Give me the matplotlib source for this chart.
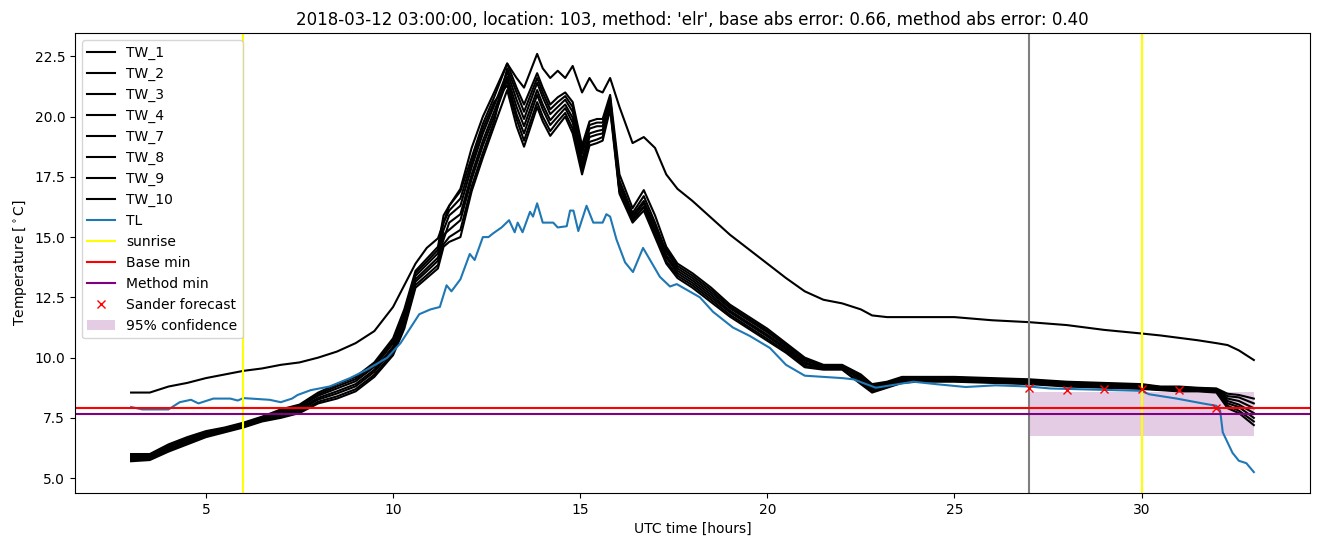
import matplotlib
matplotlib.use("Agg")
import matplotlib.pyplot as plt

# ---------------- data ----------------
tw_hours = [3.0, 3.5, 4.0, 4.5, 5.0, 5.5, 6.0, 6.5, 7.0, 7.5, 8.0, 8.5, 9.0, 9.5,
            10.0, 10.3, 10.6, 10.9, 11.2, 11.35, 11.5, 11.8, 12.1, 12.4, 12.7, 13.05,
            13.3, 13.5, 13.85, 14.0, 14.2, 14.4, 14.6, 14.8, 15.05, 15.25, 15.45, 15.6,
            15.8, 16.05, 16.4, 16.7, 17.0, 17.3, 17.6, 18.0, 18.5, 19.0, 19.5, 20.0,
            20.5, 21.0, 21.5, 22.0, 22.5, 22.8, 23.2, 23.6, 24.0, 25.0, 26.0, 27.0,
            28.0, 29.0, 30.0, 30.5, 31.0, 31.5, 32.0, 32.3, 32.6, 33.0]

tw_1 = [8.55, 8.55, 8.8, 8.95, 9.15, 9.3, 9.45, 9.55, 9.7, 9.8, 10.0, 10.25, 10.6, 11.1,
        12.1, 13.0, 13.9, 14.55, 14.95, 15.6, 16.3, 17.0, 18.7, 20.0, 21.0, 22.2,
        21.6, 21.2, 22.6, 22.0, 21.6, 21.9, 21.6, 22.1, 21.0, 21.6, 21.1, 21.0,
        21.6, 20.4, 18.9, 19.15, 18.7, 17.6, 17.0, 16.5, 15.8, 15.1, 14.5, 13.9,
        13.3, 12.75, 12.4, 12.25, 12.0, 11.75, 11.68, 11.68, 11.68, 11.68, 11.55, 11.47,
        11.35, 11.15, 11.0, 10.92, 10.82, 10.72, 10.6, 10.52, 10.3, 9.9]
tw_2 = [6.0, 6.0, 6.4, 6.7, 6.95, 7.1, 7.3, 7.55, 7.85, 8.05, 8.55, 8.9, 9.2, 9.8,
        10.8, 12.0, 13.6, 14.1, 14.6, 15.9, 16.3, 16.9, 18.3, 19.7, 20.8, 22.2,
        21.2, 20.5, 21.8, 21.2, 20.5, 20.8, 21.0, 20.6, 18.8, 19.8, 19.9, 19.9,
        20.9, 17.6, 16.2, 16.95, 15.9, 14.6, 13.9, 13.5, 12.9, 12.2, 11.7, 11.2,
        10.6, 10.0, 9.7, 9.7, 9.3, 8.9, 9.0, 9.2, 9.2, 9.2, 9.15, 9.1,
        9.0, 8.95, 8.9, 8.8, 8.8, 8.75, 8.72, 8.5, 8.45, 8.3]
tw_3 = [5.95, 5.96, 6.36, 6.66, 6.91, 7.07, 7.27, 7.52, 7.8, 8.0, 8.48, 8.81, 9.11, 9.71,
        10.7, 11.88, 13.5, 13.98, 14.47, 15.6, 16.1, 16.6, 18.1, 19.5, 20.6, 21.3,
        19.9, 19.0, 20.6, 20.0, 19.4, 19.8, 20.15, 19.5, 17.8, 18.95, 19.05, 19.15,
        20.4, 16.9, 15.7, 16.25, 15.15, 14.5, 13.8, 13.4, 12.8, 12.12, 11.62, 11.12,
        10.54, 9.94, 9.67, 9.67, 9.24, 8.85, 8.96, 9.16, 9.17, 9.17, 9.12, 9.07,
        8.97, 8.92, 8.87, 8.78, 8.77, 8.73, 8.7, 8.4, 8.35, 8.1]
tw_4 = [5.9, 5.93, 6.31, 6.61, 6.88, 7.04, 7.24, 7.49, 7.75, 7.95, 8.42, 8.72, 9.02, 9.62,
        10.59, 11.76, 13.39, 13.86, 14.33, 15.3, 15.9, 16.3, 17.9, 19.3, 20.45, 21.85,
        20.7, 19.9, 21.4, 20.8, 20.1, 20.4, 20.7, 20.2, 18.45, 19.5, 19.6, 19.6,
        20.7, 17.35, 16.0, 16.7, 15.6, 14.4, 13.7, 13.3, 12.7, 12.05, 11.55, 11.05,
        10.48, 9.88, 9.64, 9.64, 9.04, 8.67, 8.84, 9.04, 9.07, 9.07, 9.02, 8.97,
        8.87, 8.82, 8.77, 8.7, 8.67, 8.66, 8.61, 8.1, 7.95, 7.5]
tw_7 = [5.85, 5.88, 6.25, 6.55, 6.83, 7.0, 7.2, 7.45, 7.68, 7.88, 8.33, 8.6, 8.9, 9.5,
        10.45, 11.6, 13.25, 13.7, 14.15, 14.9, 15.6, 15.95, 17.6, 19.0, 20.2, 21.65,
        20.4, 19.6, 21.1, 20.5, 19.85, 20.2, 20.5, 19.95, 18.2, 19.3, 19.4, 19.45,
        20.6, 17.2, 15.9, 16.5, 15.45, 14.25, 13.6, 13.2, 12.6, 11.95, 11.45, 10.95,
        10.4, 9.8, 9.6, 9.6, 9.1, 8.73, 8.88, 9.08, 9.1, 9.1, 9.05, 9.0,
        8.9, 8.85, 8.8, 8.72, 8.7, 8.68, 8.64, 8.2, 8.05, 7.7]
tw_8 = [5.8, 5.84, 6.2, 6.5, 6.79, 6.97, 7.17, 7.42, 7.62, 7.82, 8.26, 8.51, 8.81, 9.41,
        10.35, 11.48, 13.15, 13.58, 14.02, 15.1, 15.3, 15.7, 17.4, 18.8, 20.0, 21.5,
        20.1, 19.3, 20.9, 20.3, 19.65, 20.0, 20.35, 19.75, 18.0, 19.15, 19.25, 19.3,
        20.5, 17.1, 15.8, 16.4, 15.3, 14.15, 13.5, 13.1, 12.5, 11.88, 11.38, 10.88,
        10.34, 9.74, 9.57, 9.57, 9.18, 8.8, 8.93, 9.13, 9.14, 9.14, 9.09, 9.04,
        8.94, 8.89, 8.84, 8.75, 8.74, 8.7, 8.67, 8.3, 8.2, 7.9]
tw_9 = [5.75, 5.79, 6.15, 6.45, 6.74, 6.93, 7.13, 7.38, 7.55, 7.75, 8.17, 8.39, 8.69, 9.29,
        10.21, 11.32, 13.01, 13.42, 13.84, 14.7, 15.0, 15.3, 17.1, 18.5, 19.8, 22.0,
        21.0, 20.2, 21.6, 21.0, 20.3, 20.6, 20.85, 20.4, 18.6, 19.65, 19.75, 19.75,
        20.8, 16.9, 15.7, 16.25, 15.15, 14.0, 13.4, 13.0, 12.4, 11.78, 11.28, 10.78,
        10.26, 9.66, 9.53, 9.53, 8.96, 8.6, 8.79, 8.99, 9.03, 9.03, 8.98, 8.93,
        8.83, 8.78, 8.73, 8.67, 8.63, 8.63, 8.58, 8.0, 7.8, 7.35]
tw_10 = [5.7, 5.75, 6.1, 6.4, 6.7, 6.9, 7.1, 7.35, 7.5, 7.7, 8.1, 8.3, 8.6, 9.2,
         10.1, 11.2, 12.9, 13.3, 13.7, 14.6, 14.8, 15.0, 16.9, 18.3, 19.6, 21.1,
         19.6, 18.75, 20.4, 19.8, 19.2, 19.6, 20.0, 19.3, 17.6, 18.8, 18.9, 19.0,
         20.3, 16.8, 15.6, 16.1, 15.0, 13.9, 13.3, 12.9, 12.3, 11.7, 11.2, 10.7,
         10.2, 9.6, 9.5, 9.5, 8.9, 8.55, 8.75, 8.95, 9.0, 9.0, 8.95, 8.9,
         8.8, 8.75, 8.7, 8.65, 8.6, 8.6, 8.55, 7.9, 7.7, 7.2]

tl_hours = [3.0, 3.3, 4.0, 4.3, 4.6, 4.8, 5.2, 5.65, 5.85, 6.0, 6.7, 7.0, 7.3, 7.45,
            7.8, 8.3, 8.85, 9.3, 9.85, 10.2, 10.45, 10.7, 11.0, 11.25, 11.43, 11.56,
            11.8, 12.05, 12.18, 12.4, 12.55, 12.67, 12.9, 13.1, 13.25, 13.33, 13.46,
            13.66, 13.74, 13.85, 14.0, 14.28, 14.4, 14.64, 14.73, 14.82, 14.95, 15.17,
            15.35, 15.6, 15.7, 15.8, 15.97, 16.2, 16.41, 16.68, 17.13, 17.4, 17.58,
            18.2, 18.55, 19.08, 19.53, 20.07, 20.5, 21.0, 22.0, 22.3, 22.9, 23.9,
            24.5, 25.3, 26.1, 27.0, 27.55, 30.0, 30.2, 30.94, 31.63, 32.0, 32.1,
            32.17, 32.43, 32.6, 32.8, 33.0]
tl = [7.95, 7.85, 7.85, 8.15, 8.25, 8.1, 8.3, 8.3, 8.22, 8.32, 8.25, 8.15, 8.3, 8.45,
      8.65, 8.8, 9.15, 9.5, 10.0, 10.6, 11.2, 11.8, 12.0, 12.1, 13.0, 12.75,
      13.25, 14.3, 14.05, 15.0, 15.0, 15.15, 15.4, 15.7, 15.2, 15.6, 15.2,
      16.05, 15.85, 16.4, 15.6, 15.6, 15.4, 15.45, 16.1, 16.1, 15.25, 16.3,
      15.6, 15.6, 15.95, 15.85, 14.9, 13.95, 13.55, 14.55, 13.35, 12.95, 13.05,
      12.5, 11.9, 11.25, 10.9, 10.4, 9.7, 9.25, 9.15, 9.1, 8.75, 9.0,
      8.9, 8.78, 8.85, 8.8, 8.72, 8.62, 8.48, 8.3, 8.1, 8.0, 7.8,
      6.9, 6.05, 5.72, 5.62, 5.25]

tw_names = ["TW_1", "TW_2", "TW_3", "TW_4", "TW_7", "TW_8", "TW_9", "TW_10"]
tw_series = [tw_1, tw_2, tw_3, tw_4, tw_7, tw_8, tw_9, tw_10]

sunrise_hours = [6.0, 30.0]
forecast_start = 27.0
base_min = 7.93
method_min = 7.65
sander_hours = [27, 28, 29, 30, 31, 32]
sander_values = [8.75, 8.65, 8.7, 8.7, 8.65, 7.9]
conf_hours = [27.0, 33.0]
conf_low = [6.75, 6.75]
conf_high = [8.58, 8.58]

title = ("2018-03-12 03:00:00, location: 103, method: 'elr', "
         "base abs error: 0.66, method abs error: 0.40")

# ---------------- plot ----------------
fig = plt.figure(figsize=(13.24, 5.47), dpi=100)
ax = fig.add_axes([0.0566, 0.0987, 0.9328, 0.841])

for name, vals in zip(tw_names, tw_series):
    ax.plot(tw_hours, vals, color="black", label=name)
ax.plot(tl_hours, tl, color="#1f77b4", label="TL")
for i, s in enumerate(sunrise_hours):
    ax.axvline(s, color="yellow", label="sunrise" if i == 0 else None)
ax.axvline(forecast_start, color="gray")
ax.axhline(base_min, color="red", label="Base min")
ax.axhline(method_min, color="purple", label="Method min")
ax.plot(sander_hours, sander_values, "x", color="red", linestyle="none",
        label="Sander forecast")
ax.fill_between(conf_hours, conf_low, conf_high, color="purple", alpha=0.2,
                linewidth=0, label="95% confidence")

ax.set_title(title)
ax.set_xlabel("UTC time [hours]")
ax.set_ylabel("Temperature [$^\\circ$C]")
ax.legend(loc="upper left")

fig.savefig("out.png", dpi=100)
